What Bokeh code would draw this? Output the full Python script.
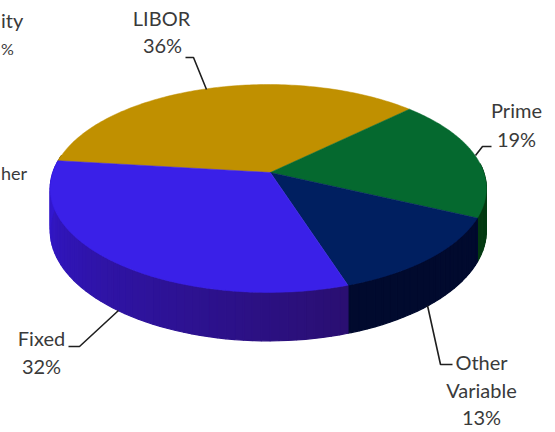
import numpy as np
from bokeh.plotting import figure
from bokeh.core.properties import value
from bokeh.embed import file_html
from bokeh.resources import INLINE

categories = ["LIBOR", "Prime", "Other Variable", "Fixed"]
shares = [36, 19, 13, 32]
top_colors = ["#C09000", "#05692F", "#001F60", "#3A20E8"]
wall_near = ["#8A6800", "#043A12", "#010A2E", "#2A0F72"]
wall_far = ["#8A6800", "#043A12", "#010A2E", "#3318D6"]

W, H = 555, 432
p = figure(width=W, height=H, x_range=(0, W), y_range=(H, 0),
           output_backend="svg", toolbar_location=None,
           min_border=0, outline_line_color=None, background_fill_color="white")
p.xaxis.visible = False
p.yaxis.visible = False
p.xgrid.visible = False
p.ygrid.visible = False

CX, CY, BX, BY, K, DEPTH = 267.8, 172.0, 215.5, 101.5, 0.1538, 41.0
START = 276.8


def project(deg, drop=0.0):
    t = np.radians(deg)
    u, v = np.sin(t), np.cos(t)
    d = 1 + K * v
    return CX + BX * u / d, CY - BY * v / d + drop * DEPTH / d


def hexrgb(c):
    return np.array([int(c[i:i + 2], 16) for i in (1, 3, 5)], dtype=float)


def mix(a, b, f):
    r = hexrgb(a) * (1 - f) + hexrgb(b) * f
    return "#%02x%02x%02x" % tuple(int(round(x)) for x in r)


edges = START + np.cumsum([0] + shares) * 3.6
wx, wy, wc = [], [], []
for i in range(len(shares)):
    a0, a1 = edges[i], edges[i + 1]
    for lo, hi in ((a0, a1), (a0 - 360, a1 - 360)):
        lo2, hi2 = max(lo, 85), min(hi, 280)
        if hi2 <= lo2:
            continue
        steps = np.append(np.arange(lo2, hi2, 2.0), hi2)
        for s0, s1 in zip(steps[:-1], steps[1:]):
            xa, ya = project(np.array([s0, s1]))
            xb, yb = project(np.array([s1, s0]), 1.0)
            wx.append(list(xa) + list(xb))
            wy.append(list(ya) + list(yb))
            f = (s0 - lo2) / max(hi2 - lo2, 1)
            wc.append(mix(wall_near[i], wall_far[i], f))
p.patches(wx, wy, fill_color=wc, line_color=wc, line_width=1.2)

for i in range(len(shares)):
    arc = np.linspace(edges[i], edges[i + 1], 120)
    ax, ay = project(arc)
    p.patch(np.r_[CX + 2, ax], np.r_[CY, ay], fill_color=top_colors[i],
            line_color=top_colors[i], line_width=0.5)

leaders = [
    ([185, 193, 206], [57, 57, 89]),
    ([491, 482, 475], [146, 146, 155]),
    ([427, 440, 452], [305, 364, 364]),
    ([118, 79, 68], [310, 346, 346]),
]
for lx, ly in leaders:
    p.line(lx, ly, line_color="#1f1f1f", line_width=1.6)

labels = [
    ("LIBOR", 161, 17.5, "center", 20), ("36%", 162, 44.5, "center", 20),
    ("Prime", 516, 109.5, "center", 20), ("19%", 516, 138.5, "center", 20),
    ("Other", 481, 361.5, "center", 20), ("Variable", 481, 389.5, "center", 20),
    ("13%", 481, 416.5, "center", 20),
    ("Fixed", 41, 337.5, "center", 20), ("32%", 41, 365.5, "center", 20),
    ("ity", 0.5, 19.5, "left", 20), ("%", 0.5, 47.5, "left", 16), ("her", 0.5, 172.5, "left", 18),
]
for t, x, y, al, size in labels:
    p.text([x], [y], text=[t], text_font=value("Lato"), text_font_size=f"{size}px",
           text_color="#3a3a3a", text_align=al, text_baseline="middle")

open("out.html", "w").write(file_html(p, INLINE))
